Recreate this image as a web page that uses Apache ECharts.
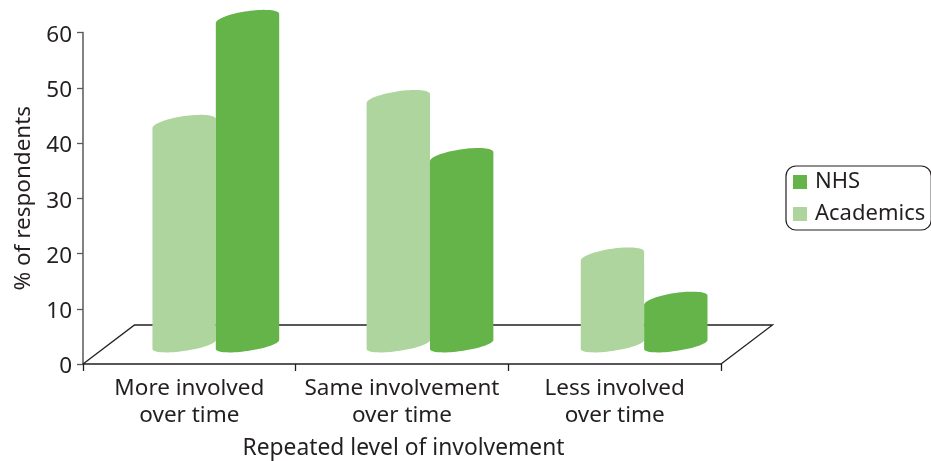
<!DOCTYPE html>
<html>
<head>
<meta charset="utf-8">
<style>html,body{margin:0;padding:0;background:#fff}#chart{width:931px;height:461px}</style>
<script src="https://cdn.jsdelivr.net/npm/echarts@6/dist/echarts.min.js"></script>
</head>
<body>
<div id="chart"></div>
<script>
const categories = ['More involved\nover time', 'Same involvement\nover time', 'Less involved\nover time'];
const academics = [40, 44.5, 16];
const nhs = [59, 34, 8];
const yTicks = [0, 60, 10];

const FONT = '"Noto Sans", sans-serif';
const FONT_SIZE = 22.5;
const INK = '#231f20';
const NHS_GREEN = '#64b449';
const ACADEMIC_GREEN = '#aed59e';

// Oblique projection of the floor: how far the back edge sits from the front edge.
const FLOOR_DX = 51.5;
const FLOOR_DY = 39;
// Columns stand mid-floor, where the projected category spacing is slightly wider.
const SPREAD = 1.007;

// One half-ellipse of a cylinder cap, sheared so the right side sits higher.
function capArc(cx, cy, a, fromT, toT, bulge) {
  const pts = [];
  const steps = 36;
  for (let i = 0; i <= steps; i++) {
    const t = fromT + (toT - fromT) * i / steps;
    pts.push([cx + a * Math.cos(t), cy - 4.5 * Math.cos(t) - bulge * Math.sin(t)]);
  }
  return pts;
}

// Cylinder for one category; side is -1 (left of centre) or +1 (right of centre).
function cylinder(side, color) {
  return function (params, api) {
    const band = api.size([1, 0])[0];
    const left = params.coordSys.x;
    const top = api.coord([api.value(0), api.value(1)]);
    const base = api.coord([api.value(0), 0]);
    const a = band * 0.149;
    const cx = left + (top[0] - left) * SPREAD + FLOOR_DX / 2 + side * a;
    const topY = top[1] - FLOOR_DY / 2;
    const baseY = base[1] - FLOOR_DY / 2;
    const pts = capArc(cx, topY, a, Math.PI, 0, 7.4).concat(capArc(cx, baseY, a, 0, -Math.PI, 6.5));
    return { type: 'polygon', shape: { points: pts }, style: { fill: color } };
  };
}

function floorOutline(params, api) {
  const g = params.coordSys;
  const bottom = g.y + g.height;
  const right = g.x + g.width;
  return {
    type: 'polyline',
    shape: { points: [
      [g.x, bottom],
      [g.x + FLOOR_DX, bottom - FLOOR_DY],
      [right + FLOOR_DX, bottom - FLOOR_DY],
      [right, bottom]
    ] },
    style: { fill: 'none', stroke: INK, lineWidth: 1.3 }
  };
}

const chart = echarts.init(document.getElementById('chart'), null, { renderer: 'canvas' });
chart.setOption({
  animation: false,
  backgroundColor: '#fff',
  textStyle: { fontFamily: FONT, color: INK },
  grid: { left: 83, right: 210, top: 32.5, bottom: 97, containLabel: false, outerBoundsMode: 'none' },
  legend: {
    data: ['NHS', 'Academics'],
    orient: 'vertical',
    left: 786,
    top: 166,
    icon: 'rect',
    itemWidth: 14,
    itemHeight: 14,
    itemGap: 10,
    padding: [5, 6, 5, 7],
    borderColor: INK,
    borderWidth: 1.2,
    borderRadius: 10,
    textStyle: { fontFamily: FONT, fontSize: 22, color: INK, padding: [0, 0, 0, 3] }
  },
  xAxis: {
    type: 'category',
    data: categories,
    name: 'Repeated level of involvement',
    nameLocation: 'middle',
    nameGap: 73,
    nameTextStyle: { fontFamily: FONT, fontSize: 22.8, color: INK, padding: [0, 0, 0, 3] },
    axisLine: { lineStyle: { color: INK, width: 1.5 } },
    axisTick: { show: true, alignWithLabel: false, length: 7, lineStyle: { color: INK, width: 1.3 } },
    axisLabel: { fontFamily: FONT, fontSize: FONT_SIZE, color: INK, lineHeight: 27, margin: 11, interval: 0 },
    splitLine: { show: false }
  },
  yAxis: {
    type: 'value',
    min: yTicks[0],
    max: yTicks[1],
    interval: yTicks[2],
    name: '% of respondents',
    nameLocation: 'middle',
    nameGap: 45,
    nameRotate: 90,
    nameTextStyle: { fontFamily: FONT, fontSize: FONT_SIZE, color: INK },
    axisLine: { show: true, lineStyle: { color: '#58595b', width: 1.5 } },
    axisTick: { show: true, length: 6, lineStyle: { color: '#58595b', width: 1.3 } },
    axisLabel: {
      margin: 11,
      formatter: '{tick|{value}}',
      rich: { tick: { fontFamily: FONT, fontSize: FONT_SIZE, color: INK, padding: [6, 0, 0, 0] } }
    },
    splitLine: { show: false }
  },
  series: [
    {
      type: 'custom',
      name: 'floor',
      coordinateSystem: 'cartesian2d',
      silent: true,
      z: 1,
      renderItem: floorOutline,
      data: [[0, 0]]
    },
    {
      type: 'custom',
      name: 'Academics',
      coordinateSystem: 'cartesian2d',
      z: 2,
      itemStyle: { color: ACADEMIC_GREEN },
      renderItem: cylinder(-1, ACADEMIC_GREEN),
      encode: { x: 0, y: 1 },
      data: academics.map((v, i) => [i, v])
    },
    {
      type: 'custom',
      name: 'NHS',
      coordinateSystem: 'cartesian2d',
      z: 3,
      itemStyle: { color: NHS_GREEN },
      renderItem: cylinder(1, NHS_GREEN),
      encode: { x: 0, y: 1 },
      data: nhs.map((v, i) => [i, v])
    }
  ]
});
</script>
</body>
</html>
